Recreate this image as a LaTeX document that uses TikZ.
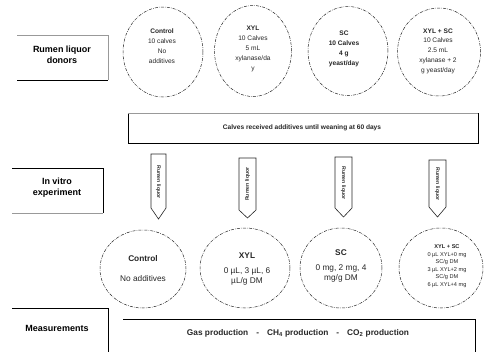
\documentclass[tikz,border=0pt]{standalone}
\usepackage{fontspec}
\setmainfont{Liberation Sans}
\usetikzlibrary{shapes.geometric}
\tikzset{
  lbl/.style={font=\fontsize{9}{11}\selectfont\bfseries, align=center, inner sep=0},
  grp/.style={ellipse, draw=black!85, line width=0.5pt, dash pattern=on 3pt off 1.2pt on 0.6pt off 1.2pt, inner sep=0},
  toptxt/.style={font=\fontsize{6.6}{9.8}\selectfont, align=center, inner sep=0, text=black!85},
  bottxt/.style={font=\fontsize{8.3}{10}\selectfont, align=center, inner sep=0, text=black!85},
  arr/.style={draw=black!85, line width=0.6pt, fill=white},
  arrtxt/.style={font=\fontsize{5.2}{6}\selectfont\bfseries, inner sep=0, text=black!80},
  boxline/.style={line width=0.7pt, draw=black},
  faint/.style={line width=0.6pt, draw=black!40},
}
\begin{document}
\begin{tikzpicture}[x=1pt,y=-1pt]
\useasboundingbox (0,0) rectangle (484,351);
\fill[white] (0,0) rectangle (484,351);
\begin{scope}
\clip (0,0) rectangle (484,351);
% left label boxes
\draw[faint] (17,35) -- (108,35);
\draw[faint] (108,35) -- (108,80);
\draw[boxline] (17,80) -- (108,80);
\node[lbl] (donors) at (62,55) {Rumen liquor\\donors};

\draw[boxline] (12,168) -- (103,168) -- (103,213);
\draw[faint] (12,213) -- (103,213);
\node[lbl] (invitro) at (57,188) {In vitro\\experiment};

\draw[boxline] (12,308) -- (108,308) -- (108,360);
\node[lbl] (meas) at (57,328) {Measurements};

% top circles
\node[grp, minimum width=80pt, minimum height=90pt] (c1) at (163,52) {};
\node[grp, minimum width=77pt, minimum height=91pt] (c2) at (253,51) {};
\node[grp, minimum width=80pt, minimum height=89pt] (c3) at (348,51) {};
\node[grp, minimum width=83pt, minimum height=88pt] (c4) at (439,52) {};
\node[toptxt] (t1) at (162,46) {\textbf{Control}\\10 calves\\No\\additives};
\node[toptxt] (t2) at (253,49) {\textbf{XYL}\\10 Calves\\5 mL\\xylanase/da\\y};
\node[toptxt, font=\fontsize{6.6}{9.8}\selectfont\bfseries] (t3) at (344,49) {SC\\10 Calves\\4 g\\yeast/day};
\node[toptxt] (t4) at (438,51) {\textbf{XYL + SC}\\10 Calves\\2.5 mL\\xylanase + 2\\g yeast/day};

% calves box
\draw[boxline] (128,113) rectangle (478,143);
\draw[faint] (128,113) -- (478,113);
\node[inner sep=0, font=\fontsize{6.6}{8}\selectfont\bfseries, text=black!85] (calves) at (302,128) {Calves received additives until weaning at 60 days};

% arrows
\draw[arr] (151,154) -- (166,154) -- (166,208) -- (158.5,219) -- (151,208) -- cycle;
\node[arrtxt, rotate=-90] (a1) at (158.5,182) {Rumen liquor};
\draw[arr] (239,158) -- (256,158) -- (256,210) -- (247.5,218) -- (239,210) -- cycle;
\node[arrtxt, rotate=90] (a2) at (247.5,184) {Rumen liquor};
\draw[arr] (335,157) -- (352,157) -- (352,208) -- (343.5,217) -- (335,208) -- cycle;
\node[arrtxt, rotate=-90] (a3) at (343.5,183) {Rumen liquor};
\draw[arr] (429,160) -- (446,160) -- (446,207) -- (437.5,217) -- (429,207) -- cycle;
\node[arrtxt, rotate=-90] (a4) at (437.5,184) {Rumen liquor};

% bottom circles
\node[grp, minimum width=86pt, minimum height=78pt] (b1) at (143,269) {};
\node[grp, minimum width=90pt, minimum height=80pt] (b2) at (245,268) {};
\node[grp, minimum width=82pt, minimum height=80pt] (b3) at (341,268) {};
\node[grp, minimum width=84pt, minimum height=80pt] (b4) at (441,268) {};
\node[bottxt] (bt1a) at (143,259) {\textbf{Control}};
\node[bottxt] (bt1b) at (143,279) {No additives};
\node[bottxt] (bt2) at (247,269) {\textbf{XYL}\\[5pt]0 µL, 3 µL, 6\\µL/g DM};
\node[bottxt] (bt3) at (341,266) {\textbf{SC}\\[5pt]0 mg, 2 mg, 4\\mg/g DM};
\node[toptxt, font=\fontsize{5.6}{7.5}\selectfont] (bt4) at (447,266) {\textbf{XYL + SC}\\0 µL XYL+0 mg\\SC/g DM\\3 µL XYL+2 mg\\SC/g DM\\6 µL XYL+4 mg};

% measurement box
\draw[boxline] (123,319) -- (475,319) -- (475,360);
\node[inner sep=0, font=\fontsize{8.3}{10}\selectfont\bfseries, text=black!85] (mtxt) at (298,333) {Gas production\hspace{8pt}-\hspace{8pt}CH\textsubscript{4} production\hspace{8pt}-\hspace{8pt}CO\textsubscript{2} production};
\end{scope}
\end{tikzpicture}
\end{document}
